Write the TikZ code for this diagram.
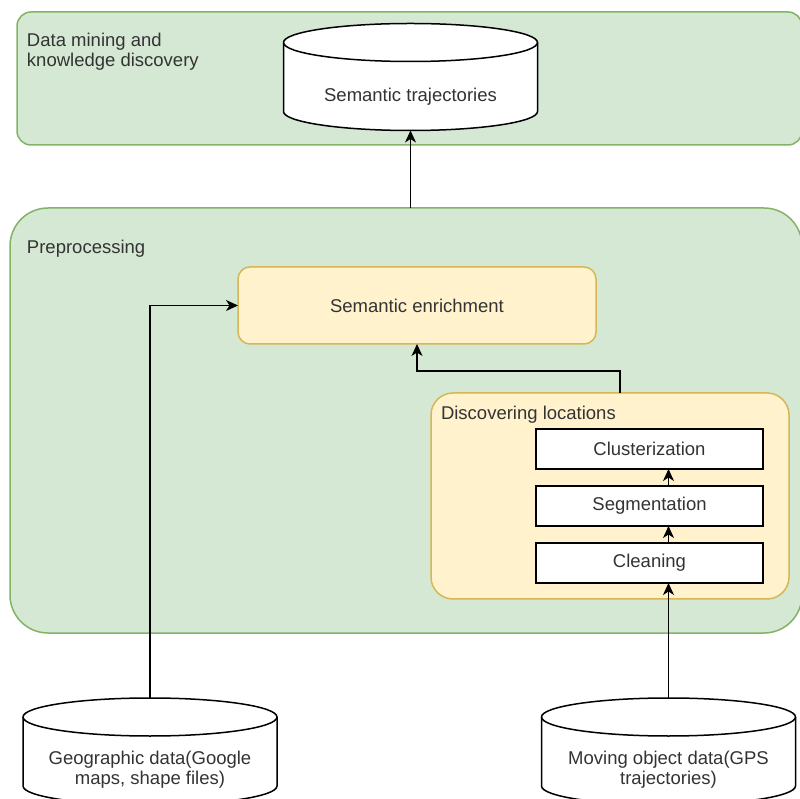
\documentclass[tikz,border=0pt]{standalone}
\usepackage{fontspec}
\setmainfont{Liberation Sans}
\usetikzlibrary{positioning,arrows.meta}

\definecolor{greenfill}{HTML}{D5E8D4}
\definecolor{greenline}{HTML}{82B366}
\definecolor{yellowfill}{HTML}{FFF2CC}
\definecolor{yellowline}{HTML}{D6B656}
\definecolor{textgray}{HTML}{333333}

\tikzset{
  every node/.style={font=\fontsize{18.5}{20.5}\selectfont, text=textgray, outer sep=0pt},
  stage/.style={draw=greenline, fill=greenfill, line width=1.5pt},
  module/.style={draw=yellowline, fill=yellowfill, line width=1.5pt},
  task/.style={draw=black, fill=white, line width=1.5pt, minimum width=227pt, minimum height=40pt},
  dbline/.style={draw=black, fill=white, line width=1.5pt},
  db/.style={rectangle, inner sep=0pt, minimum width=254pt, minimum height=107pt,
    append after command={\pgfextra{
      \draw[dbline] ([yshift=-19pt]\tikzlastnode.north west)
        -- ([yshift=19pt]\tikzlastnode.south west)
        arc[start angle=180, end angle=360, x radius=127pt, y radius=19pt]
        -- ([yshift=-19pt]\tikzlastnode.north east)
        arc[start angle=0, end angle=180, x radius=127pt, y radius=19pt] -- cycle;
      \draw[dbline, fill=none] ([yshift=-19pt]\tikzlastnode.north west)
        arc[start angle=180, end angle=360, x radius=127pt, y radius=19pt];
    }}},
  dblabel/.style={align=center, yshift=-18pt},
  title/.style={align=left, inner sep=0pt},
  arr/.style={-{Stealth[length=12pt,width=11pt,inset=3.5pt]}, line width=1.5pt, draw=black},
}

\begin{document}
\begin{tikzpicture}[x=1pt,y=1pt]
	\useasboundingbox (0,0) rectangle (800,798);
	\clip (0,0) rectangle (800,798);

	\node[stage, rounded corners=14pt, minimum width=785pt, minimum height=133pt] (mining) at (409.5,719.5) {};
	\node[title, below right=21pt and 10pt of mining.north west] (miningtitle) {Data mining and\\knowledge discovery};
	\node[db, label={[dblabel, yshift=-2pt]center:Semantic trajectories}] (trajdb) at (410.5,721) {};

	\node[stage, rounded corners=38pt, minimum width=792pt, minimum height=425pt] (prep) at (406,377.5) {};
	\node[title, below right=32.5pt and 17pt of prep.north west] (preptitle) {Preprocessing};

	\node[module, rounded corners=12pt, minimum width=358pt, minimum height=77pt] (enrich) at (417,492.5) {Semantic enrichment};

	\node[module, rounded corners=22pt, minimum width=358pt, minimum height=206pt] (discover) at (610,302) {};
	\node[title, below right=13.5pt and 10pt of discover.north west] (discovertitle) {Discovering locations};
	\node[task] (clust) at (649.5,349) {Clusterization};
	\node[task, below=17pt of clust] (seg) {Segmentation};
	\node[task, below=17pt of seg] (clean) {Cleaning};

	\node[db, label={[dblabel]center:{Geographic data(Google\\maps, shape files)}}] (geodb) at (150,46.5) {};
	\node[db, label={[dblabel]center:{Moving object data(GPS\\trajectories)}}] (movdb) at (668.5,46.5) {};

	\draw[arr] (prep.north -| trajdb.south) -- (trajdb.south);
	\draw[arr] (geodb.north) |- (enrich.west);
	\draw[arr] ([xshift=10pt]discover.north) -- ++(0,22) -| (enrich.south);
	\draw[arr] (movdb.north) -- (movdb.north |- clean.south);
	\draw[arr] (clean.north -| movdb.north) -- (seg.south -| movdb.north);
	\draw[arr] (seg.north -| movdb.north) -- (clust.south -| movdb.north);

\end{tikzpicture}
\end{document}
